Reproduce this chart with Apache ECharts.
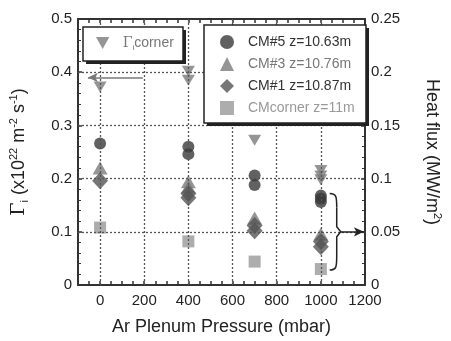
<!DOCTYPE html>
<html>
<head>
<meta charset="utf-8">
<script src="https://cdn.jsdelivr.net/npm/echarts@6/dist/echarts.min.js"></script>
<style>
  html, body { margin: 0; padding: 0; background: #fff; }
  #chart { width: 451px; height: 341px; }
</style>
</head>
<body>
<div id="chart"></div>
<script>
// Γi at the corner (left axis, x10^22 m^-2 s^-1)
const gcornerX = [0, 400, 400, 700, 1000, 1000, 1000];
const gcornerY = [0.372, 0.402, 0.385, 0.272, 0.215, 0.205, 0.198];
// heat flux (right axis, MW/m2)
const cm5X = [0, 400, 400, 700, 700, 1000, 1000, 1000];
const cm5Y = [0.133, 0.130, 0.123, 0.103, 0.094, 0.084, 0.081, 0.078];
const cm3X = [0, 400, 400, 700, 1000];
const cm3Y = [0.110, 0.097, 0.092, 0.063, 0.048];
const cm1X = [0, 400, 400, 700, 700, 1000, 1000];
const cm1Y = [0.098, 0.086, 0.082, 0.056, 0.051, 0.041, 0.036];
const cmcX = [0, 400, 700, 1000];
const cmcY = [0.054, 0.041, 0.022, 0.015];

const xGrid = [0, 200, 400, 600, 800, 1000];
const yGrid = [0.1, 0.2, 0.3, 0.4];
const xLabels = [0, 200, 400, 600, 800, 1000, 1200];

const names = ['Γcorner', 'CM#5 z=10.63m', 'CM#3 z=10.76m', 'CM#1 z=10.87m', 'CMcorner z=11m'];
const font = 'Liberation Sans, Arial, sans-serif';
const invTri = 'path://M0,0L10,0L5,9Z';

const pairs = (xs, ys) => xs.map((x, i) => [x, ys[i]]);

const chart = echarts.init(document.getElementById('chart'));

const axisCommon = {
  axisLine: { show: true, onZero: false, lineStyle: { color: '#333', width: 2 } },
  axisTick: { show: true, inside: true, length: 4, lineStyle: { color: '#333', width: 1.5 } },
  splitLine: { show: false }
};

// legend frames: a dark offset block under a white bordered box
function frame(x, y, w, h) {
  return [
    { type: 'rect', silent: true, z: 20, shape: { x: x + 3, y: y + 3, width: w, height: h }, style: { fill: '#222' } },
    { type: 'rect', silent: true, z: 21, shape: { x: x, y: y, width: w, height: h }, style: { fill: '#fff', stroke: '#222', lineWidth: 1.5 } }
  ];
}

const option = {
  animation: false,
  grid: { left: 77, right: 73, top: 19, bottom: 52 },
  xAxis: [
    Object.assign({}, axisCommon, {
      type: 'value', min: -100, max: 1200, interval: 50,
      name: 'Ar Plenum Pressure (mbar)', nameLocation: 'middle', nameGap: 33,
      nameTextStyle: { fontFamily: font, fontSize: 18, color: '#222' },
      axisLabel: {
        fontFamily: font, fontSize: 15, color: '#222', margin: 8,
        formatter: v => (xLabels.indexOf(v) >= 0 ? String(v) : '')
      }
    }),
    Object.assign({}, axisCommon, {
      type: 'value', min: -100, max: 1200, interval: 50, position: 'top',
      axisLabel: { show: false }
    })
  ],
  yAxis: [
    Object.assign({}, axisCommon, {
      type: 'value', min: 0, max: 0.5, interval: 0.1,
      minorTick: { show: true, splitNumber: 5, length: 3, lineStyle: { color: '#333' } },
      axisLabel: { fontFamily: font, fontSize: 15, color: '#222', margin: 6, formatter: v => String(+v.toFixed(1)) },
      name: '{g|Γ}{sb|i}{t| (x10}{sp|22}{t| m}{sp|-2}{t| s}{sp|-1}{t|)}',
      nameLocation: 'middle', nameRotate: 90, nameGap: 48,
      nameTextStyle: {
        fontFamily: font, color: '#222',
        rich: {
          g: { fontFamily: 'DejaVu Serif, serif', fontSize: 19, color: '#222', lineHeight: 22, verticalAlign: 'middle' },
          t: { fontFamily: font, fontSize: 18, color: '#222', lineHeight: 22, verticalAlign: 'middle' },
          sb: { fontFamily: font, fontSize: 11, color: '#222', lineHeight: 22, verticalAlign: 'bottom' },
          sp: { fontFamily: font, fontSize: 11, color: '#222', lineHeight: 22, verticalAlign: 'top' }
        }
      }
    }),
    Object.assign({}, axisCommon, {
      type: 'value', min: 0, max: 0.25, interval: 0.05, position: 'right',
      minorTick: { show: true, splitNumber: 5, length: 3, lineStyle: { color: '#333' } },
      axisLabel: { fontFamily: font, fontSize: 15, color: '#222', margin: 6, formatter: v => String(+v.toFixed(2)) },
      name: '{t|Heat flux (MW/m}{sp|2}{t|)}',
      nameLocation: 'middle', nameRotate: -90, nameGap: 56,
      nameTextStyle: {
        fontFamily: font, color: '#222',
        rich: {
          t: { fontFamily: font, fontSize: 18, color: '#222', lineHeight: 22, verticalAlign: 'middle' },
          sp: { fontFamily: font, fontSize: 11, color: '#222', lineHeight: 22, verticalAlign: 'top' }
        }
      }
    })
  ],
  legend: [
    {
      data: [{ name: names[0] }],
      left: 96, top: 36, padding: 0, z: 30,
      itemWidth: 14, itemHeight: 12,
      formatter: () => '{g|Γ}{sb|i}{t|corner}',
      textStyle: {
        padding: [0, 0, 0, 8],
        rich: {
          g: { fontFamily: 'DejaVu Serif, serif', fontSize: 14, color: '#777' },
          t: { fontFamily: font, fontSize: 14, color: '#777' },
          sb: { fontFamily: font, fontSize: 8, color: '#777', padding: [9, 0, 0, 0] }
        }
      }
    },
    {
      orient: 'vertical', z: 30,
      data: [
        { name: names[1], textStyle: { color: '#333' } },
        { name: names[2], textStyle: { color: '#777' } },
        { name: names[3], textStyle: { color: '#333' } },
        { name: names[4], textStyle: { color: '#999' } }
      ],
      left: 220, top: 35, padding: 0,
      itemWidth: 14, itemHeight: 14, itemGap: 8,
      textStyle: { fontFamily: font, fontSize: 14, padding: [0, 0, 0, 9] }
    }
  ],
  series: [
    {
      type: 'scatter', name: '_grid', xAxisIndex: 0, yAxisIndex: 0, data: [], z: 1, silent: true,
      markLine: {
        silent: true, symbol: ['none', 'none'], label: { show: false },
        lineStyle: { color: '#555', type: [2, 2], width: 1.3 },
        data: xGrid.map(v => ({ xAxis: v })).concat(yGrid.map(v => ({ yAxis: v })))
      }
    },
    {
      type: 'scatter', name: names[0], xAxisIndex: 0, yAxisIndex: 0, z: 3,
      symbol: invTri, symbolSize: [13, 11],
      itemStyle: { color: '#7a7a7a' },
      data: pairs(gcornerX, gcornerY),
      markLine: {
        silent: true, symbol: ['none', 'arrow'], symbolSize: [7, 10], label: { show: false },
        lineStyle: { color: '#777', type: 'solid', width: 1.5 },
        data: [[{ coord: [194, 0.39] }, { coord: [-55, 0.39] }]]
      }
    },
    {
      type: 'scatter', name: names[1], xAxisIndex: 0, yAxisIndex: 1, z: 3,
      symbol: 'circle', symbolSize: 12,
      itemStyle: { color: '#3a3a3a' },
      data: pairs(cm5X, cm5Y),
      markLine: {
        silent: true, symbol: ['none', 'arrow'], symbolSize: [7, 10], label: { show: false },
        lineStyle: { color: '#222', type: 'solid', width: 1.5 },
        data: [[{ coord: [1090, 0.05] }, { coord: [1195, 0.05] }]]
      }
    },
    {
      type: 'scatter', name: names[2], xAxisIndex: 0, yAxisIndex: 1, z: 3,
      symbol: 'triangle', symbolSize: [15, 13],
      itemStyle: { color: '#7a7a7a' },
      data: pairs(cm3X, cm3Y)
    },
    {
      type: 'scatter', name: names[3], xAxisIndex: 0, yAxisIndex: 1, z: 4,
      symbol: 'diamond', symbolSize: [16, 17],
      itemStyle: { color: '#555' },
      data: pairs(cm1X, cm1Y)
    },
    {
      type: 'scatter', name: names[4], xAxisIndex: 0, yAxisIndex: 1, z: 3,
      symbol: 'rect', symbolSize: 12,
      itemStyle: { color: '#999' },
      data: pairs(cmcX, cmcY)
    }
  ]
};

chart.setOption(option);

// bracket grouping the 1000 mbar points, placed via axis conversion
const pTop = chart.convertToPixel({ xAxisIndex: 0, yAxisIndex: 1 }, [1040, 0.086]);
const pMid = chart.convertToPixel({ xAxisIndex: 0, yAxisIndex: 1 }, [1090, 0.05]);
const pBot = chart.convertToPixel({ xAxisIndex: 0, yAxisIndex: 1 }, [1040, 0.014]);
const bx = pMid[0] - 4;
const lineSt = { fill: null, stroke: '#222', lineWidth: 1.5 };
chart.setOption({
  graphic: frame(83, 27, 100, 34).concat(frame(204, 25, 162, 98)).concat([
    { type: 'bezierCurve', silent: true, z: 10, style: lineSt,
      shape: { x1: pTop[0], y1: pTop[1], cpx1: bx, cpy1: pTop[1], cpx2: bx, cpy2: pTop[1] + 4, x2: bx, y2: pTop[1] + 14 } },
    { type: 'polyline', silent: true, z: 10, style: lineSt,
      shape: { points: [[bx, pTop[1] + 14], [bx, pMid[1] - 5], [pMid[0], pMid[1]], [bx, pMid[1] + 5], [bx, pBot[1] - 14]] } },
    { type: 'bezierCurve', silent: true, z: 10, style: lineSt,
      shape: { x1: bx, y1: pBot[1] - 14, cpx1: bx, cpy1: pBot[1] - 4, cpx2: bx, cpy2: pBot[1], x2: pBot[0], y2: pBot[1] } }
  ])
});
</script>
</body>
</html>
